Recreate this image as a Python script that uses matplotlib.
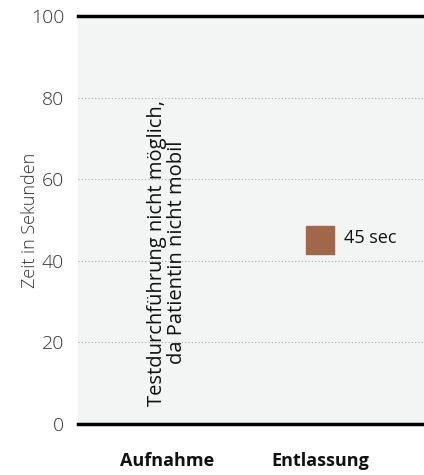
import matplotlib
matplotlib.use("Agg")
import matplotlib.pyplot as plt

# Data
categories = ["Aufnahme", "Entlassung"]
values = [None, 45]
value_labels = ["", "45 sec"]
note = "Testdurchführung nicht möglich,\nda Patientin nicht mobil"
yticks = [0, 20, 40, 60, 80, 100]

plt.rcParams['font.family'] = ['Open Sans', 'DejaVu Sans']

fig = plt.figure(figsize=(4.24, 4.75), dpi=100)
ax = fig.add_axes([78 / 424, 51 / 475, 346 / 424, 408 / 475])
ax.set_facecolor('#f3f4f4')

x = list(range(len(categories)))
ax.set_xlim(-0.58, 1.68)
ax.set_ylim(0, 100)

# gridlines
for t in yticks[1:-1]:
    ax.axhline(t, color='#aaaaaa', linestyle=(0, (1, 2)), linewidth=0.8, zorder=1)
ax.axhline(0, color='black', linewidth=2.5, zorder=3, clip_on=False)
ax.axhline(100, color='black', linewidth=2.5, zorder=3, clip_on=False)

# markers
for xi, v, lab in zip(x, values, value_labels):
    if v is None:
        ax.text(xi, 4.5, note, rotation=90, ha='center', va='bottom',
                fontsize=14.5, color='#111111', linespacing=1.0)
        continue
    ax.scatter([xi], [v], marker='s', s=400, color='#a0674a', zorder=4)
    ax.text(xi + 0.16, v + 0.5, lab, ha='left', va='center', fontsize=13,
            color='#111111')

for s in ax.spines.values():
    s.set_visible(False)

ax.set_yticks(yticks)
ax.set_yticklabels([str(t) for t in yticks], fontsize=14, fontweight='light',
                   color='#333333')
ax.tick_params(axis='y', length=0, pad=10)
ax.set_xticks(x)
ax.set_xticklabels(categories, fontsize=13, fontweight='bold', color='#111111')
ax.tick_params(axis='x', length=0, pad=20)
ax.set_ylabel("Zeit in Sekunden", fontsize=13, fontweight='light',
              color='#333333')
ax.yaxis.set_label_coords(-0.113, 0.5)

fig.savefig("out.png", dpi=100)
